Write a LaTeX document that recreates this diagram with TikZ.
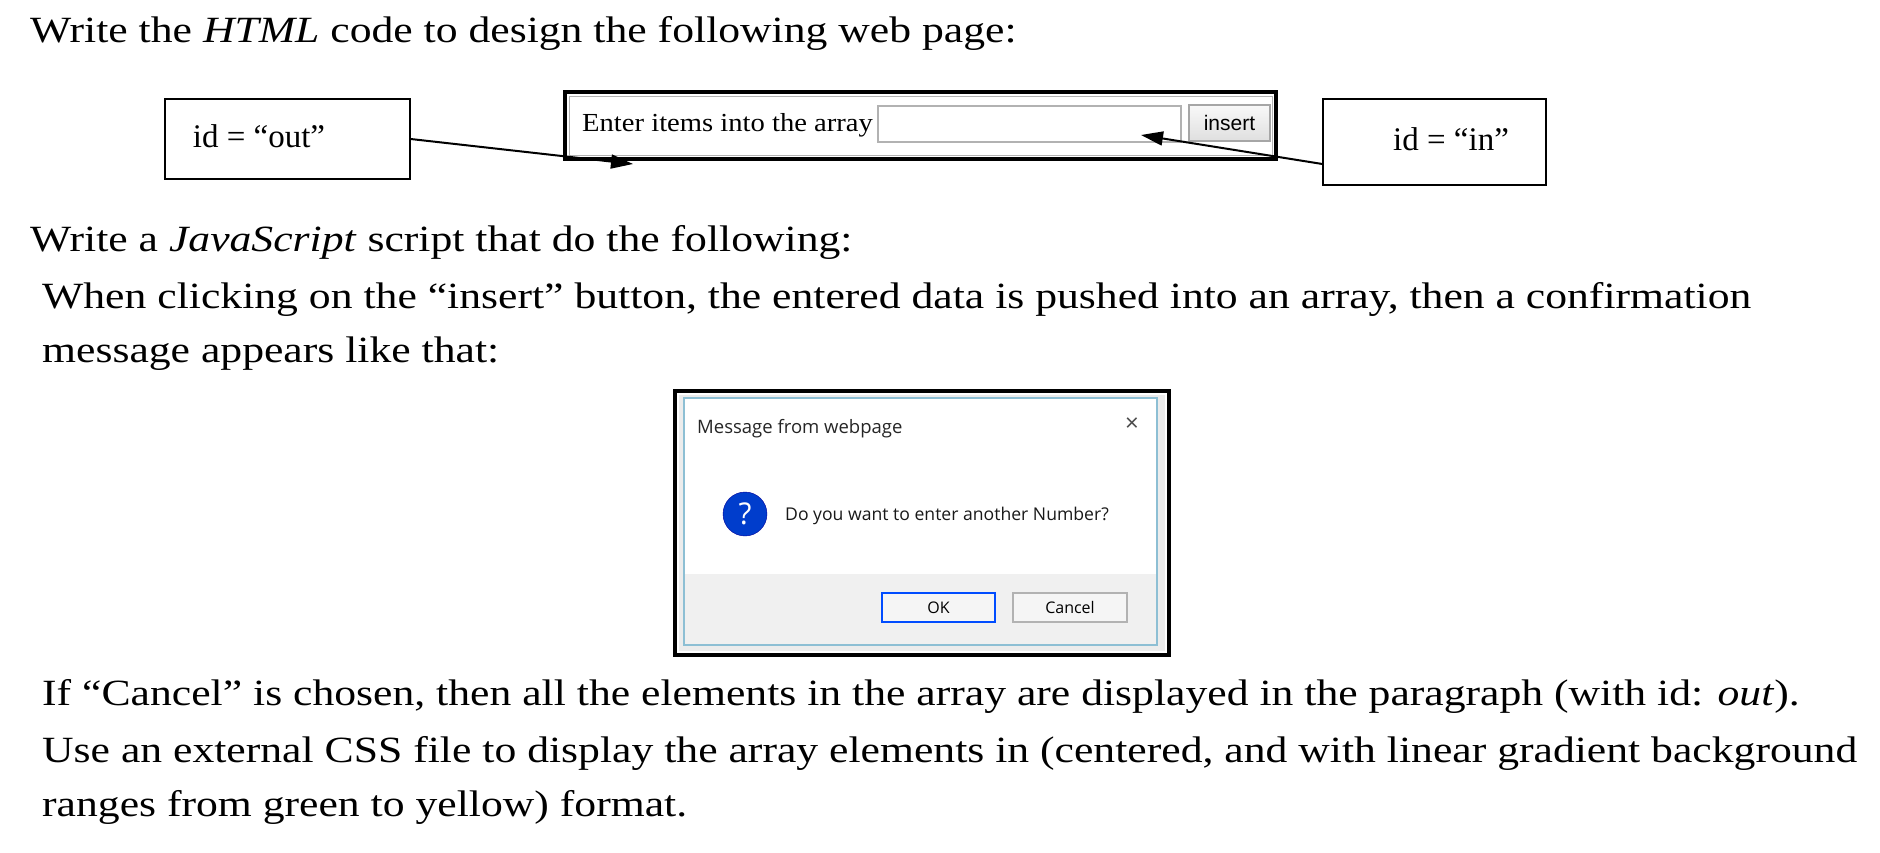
\documentclass[tikz,border=0pt]{standalone}
\usepackage{fontspec}
\setmainfont{Liberation Serif}
\newfontfamily\uifont{Open Sans}
\newfontfamily\arialf{Liberation Sans}
\usetikzlibrary{arrows.meta}
\newcommand{\wide}[1]{\scalebox{1.18}[1]{#1}}
\tikzset{
  txt/.style={anchor=base west,inner sep=0pt,font=\fontsize{37}{44}\selectfont},
  arr/.style={line width=2pt,-{Triangle[length=22pt,width=14pt]}},
}
\begin{document}
\begin{tikzpicture}[x=1pt,y=-1pt]
\useasboundingbox (0,0) rectangle (1880,852);
\node[txt] (t1) at (30,42) {\wide{Write the \textit{HTML} code to design the following web page:}};
% id boxes
\node[draw,line width=1.3pt,minimum width=245pt,minimum height=80pt,inner sep=0pt] (out) at (287.5,139) {};
\node[txt,anchor=base] (outl) at (259,147) {\fontsize{33}{36}\selectfont id = “out”};
\node[draw,line width=1.3pt,minimum width=223pt,minimum height=86pt,inner sep=0pt] (in) at (1434.5,142) {};
\node[txt,anchor=base] (inl) at (1451,150) {\fontsize{33}{36}\selectfont id = “in”};
% web page box
\draw[line width=4pt] (565,92) rectangle (1276,159);
\draw[line width=1pt,gray!60] (569,96) rectangle (1272,155);
\node[anchor=base west,inner sep=0pt,font=\fontsize{26}{30}\selectfont] (lab) at (582,131) {\scalebox{1.1}[1]{Enter items into the array}};
\node[draw=gray!60,line width=1.2pt,fill=white,minimum width=303pt,minimum height=36pt,inner sep=0pt] (fieldbox) at (1029.5,124) {};
\node[draw=gray!70,line width=1.2pt,top color=gray!5,bottom color=gray!25,minimum width=81pt,minimum height=36pt,inner sep=0pt,font=\arialf\fontsize{21}{24}\selectfont] (ins) at (1229.5,123) {insert};
\coordinate (field) at (1141,135);
\coordinate (pgin) at (633,164);
\draw[arr] (out.east |- 0,139) -- (pgin);
\draw[arr] (in.west |- 0,164) -- (field);
\node[txt] (t2) at (30,251) {\wide{Write a \textit{JavaScript} script that do the following:}};
\node[txt] (t3) at (42,308) {\wide{When clicking on the “insert” button, the entered data is pushed into an array, then a confirmation}};
\node[txt] (t4) at (42,362) {\wide{message appears like that:}};
% dialog
\draw[line width=4pt] (675,391) rectangle (1169,655);
\fill[gray!15] (679,395) rectangle (1165,651);
\draw[line width=1.5pt,cyan!50!gray!70] (684,398) rectangle (1157,645);
\fill[white] (685,399) rectangle (1156,574);
\fill[gray!12] (685,574) rectangle (1156,644);
\node[anchor=base west,inner sep=0pt,font=\uifont\fontsize{18.5}{20}\selectfont,text=black!85] (ttl) at (697,433) {Message from webpage};
\node[inner sep=0pt,font=\uifont\fontsize{24}{24}\selectfont,text=black!70] (x) at (1132,425) {×};
\node[circle,fill=blue!70!cyan!80!black,draw=blue!60!black,minimum size=44pt,inner sep=0pt,text=white,font=\uifont\fontsize{30}{30}\selectfont] (q) at (745,514) {?};
\node[anchor=west,inner sep=0pt,font=\uifont\fontsize{17.6}{20}\selectfont,text=black!90] (msg) at (785,516) {Do you want to enter another Number?};
\node[draw=blue!70!cyan,line width=2pt,fill=gray!8,minimum width=113pt,minimum height=29pt,inner sep=0pt,font=\uifont\fontsize{16}{18}\selectfont] (ok) at (938.5,607.5) {OK};
\node[draw=gray!60,line width=1.2pt,fill=gray!8,minimum width=114pt,minimum height=29pt,inner sep=0pt,font=\uifont\fontsize{16}{18}\selectfont] (cancel) at (1070,607.5) {Cancel};
\node[txt] (t5) at (42,705) {\wide{If “Cancel” is chosen, then all the elements in the array are displayed in the paragraph (with id: \textit{out}).}};
\node[txt] (t6) at (42,762) {\wide{Use an external CSS file to display the array elements in (centered, and with linear gradient background}};
\node[txt] (t7) at (42,816) {\wide{ranges from green to yellow) format.}};
\end{tikzpicture}
\end{document}
